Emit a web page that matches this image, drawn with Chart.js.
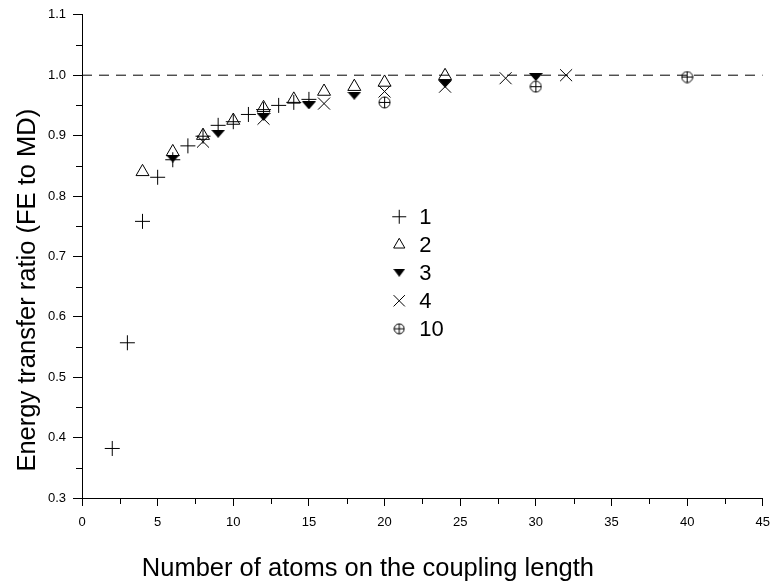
<!DOCTYPE html>
<html>
<head>
<meta charset="utf-8">
<script src="https://cdn.jsdelivr.net/npm/chart.js@4.4.1/dist/chart.umd.min.js"></script>
<style>
  body { margin: 0; background: #fff; }
</style>
</head>
<body>
<canvas id="chart" width="779" height="587"></canvas>
<script>
// series labels as in the legend
const seriesNames = ['1', '2', '3', '4', '10'];

// values
const s1X = [2, 3, 4, 5, 6, 7, 8, 9, 10, 11, 12, 13, 14, 15];
const s1Y = [0.382, 0.557, 0.758, 0.831, 0.860, 0.883, 0.899, 0.917, 0.923, 0.935, 0.943, 0.950, 0.955, 0.960];
const s2X = [4, 6, 8, 10, 12, 14, 16, 18, 20, 24];
const s2Y = [0.840, 0.873, 0.900, 0.925, 0.946, 0.960, 0.973, 0.981, 0.988, 0.999];
const s3X = [6, 9, 12, 15, 18, 24, 30];
const s3Y = [0.862, 0.903, 0.931, 0.950, 0.966, 0.986, 0.997];
const s4X = [8, 12, 16, 20, 24, 28, 32];
const s4Y = [0.890, 0.928, 0.953, 0.973, 0.981, 0.995, 1.000];
const s10X = [20, 30, 40];
const s10Y = [0.955, 0.981, 0.997];

// dashed reference line
const refX = [0, 45];
const refY = [1.0, 1.0];

// ticks
const xTicks = [0, 5, 10, 15, 20, 25, 30, 35, 40, 45];
const xMinorTicks = [2.5, 7.5, 12.5, 17.5, 22.5, 27.5, 32.5, 37.5, 42.5];
const yTicks = [0.3, 0.4, 0.5, 0.6, 0.7, 0.8, 0.9, 1.0, 1.1];
const yMinorTicks = [0.35, 0.45, 0.55, 0.65, 0.75, 0.85, 0.95, 1.05];

const xTitle = 'Number of atoms on the coupling length';
const yTitle = 'Energy transfer ratio (FE to MD)';

const FONT = "'Liberation Sans', Arial, Helvetica, sans-serif";

function pts(xs, ys) {
  return xs.map((x, i) => ({ x: x, y: ys[i] }));
}

// flat filled down-triangle
function downTri(w, h) {
  const c = document.createElement('canvas');
  c.width = w; c.height = h;
  const g = c.getContext('2d');
  g.fillStyle = '#000';
  g.beginPath();
  g.moveTo(0, 0);
  g.lineTo(w, 0);
  g.lineTo(w / 2, h);
  g.closePath();
  g.fill();
  return c;
}

// circle with a plus inside
function oplus(d) {
  const c = document.createElement('canvas');
  c.width = d; c.height = d;
  const g = c.getContext('2d');
  const m = d / 2, r = d / 2 - 1;
  g.strokeStyle = '#000';
  g.lineWidth = 1;
  g.beginPath();
  g.arc(m, m, r, 0, Math.PI * 2);
  g.moveTo(m - r, m);
  g.lineTo(m + r, m);
  g.moveTo(m, m - r);
  g.lineTo(m, m + r);
  g.stroke();
  return c;
}

const styles = [
  { pointStyle: 'cross', radius: 7.5, legendRadius: 7, fill: 'rgba(0,0,0,0)' },
  { pointStyle: 'triangle', radius: 7.5, legendRadius: 6.5, fill: 'rgba(0,0,0,0)' },
  { pointStyle: downTri(14, 8), legendStyle: downTri(12, 8), radius: 7, fill: '#000' },
  { pointStyle: 'crossRot', radius: 8.5, legendRadius: 8, fill: 'rgba(0,0,0,0)' },
  { pointStyle: oplus(13), legendStyle: oplus(12), radius: 6.5, fill: 'rgba(0,0,0,0)' }
];

const seriesData = [pts(s1X, s1Y), pts(s2X, s2Y), pts(s3X, s3Y), pts(s4X, s4Y), pts(s10X, s10Y)];

const datasets = seriesNames.map((name, i) => ({
  label: name,
  data: seriesData[i],
  showLine: false,
  pointStyle: styles[i].pointStyle,
  pointRadius: styles[i].radius,
  pointBorderWidth: 1,
  pointBorderColor: '#000',
  pointBackgroundColor: styles[i].fill
}));

datasets.push({
  label: 'ref',
  data: pts(refX, refY),
  showLine: true,
  borderColor: '#000',
  borderWidth: 1,
  borderDash: [10, 7],
  pointRadius: 0
});

// minor ticks, both axis titles, and the legend inside the plot
const extras = {
  id: 'extras',
  afterDraw(chart) {
    const { ctx, chartArea: a, scales } = chart;
    ctx.save();
    ctx.strokeStyle = '#000';
    ctx.lineWidth = 1;
    ctx.beginPath();
    xMinorTicks.forEach(v => {
      const px = Math.round(scales.x.getPixelForValue(v)) + 0.5;
      ctx.moveTo(px, a.bottom);
      ctx.lineTo(px, a.bottom + 6);
    });
    yMinorTicks.forEach(v => {
      const py = Math.round(scales.y.getPixelForValue(v)) + 0.5;
      ctx.moveTo(a.left - 6, py);
      ctx.lineTo(a.left, py);
    });
    ctx.stroke();

    ctx.fillStyle = '#000';
    ctx.font = '25.5px ' + FONT;
    ctx.textAlign = 'center';
    ctx.textBaseline = 'middle';
    ctx.fillText(xTitle, a.left + 0.42 * (a.right - a.left), 569);

    ctx.save();
    ctx.translate(28, a.top + 0.57 * (a.bottom - a.top));
    ctx.rotate(-Math.PI / 2);
    ctx.fillText(yTitle, 0, 0);
    ctx.restore();

    const lx = a.left + 0.466 * (a.right - a.left);
    const ly = a.top + 0.418 * (a.bottom - a.top);
    ctx.font = '22px ' + FONT;
    ctx.textAlign = 'left';
    seriesNames.forEach((name, i) => {
      const y = ly + i * 28;
      const st = styles[i];
      ctx.fillStyle = st.fill;
      ctx.strokeStyle = '#000';
      Chart.helpers.drawPoint(ctx, {
        pointStyle: st.legendStyle || st.pointStyle,
        radius: st.legendRadius || st.radius,
        rotation: 0,
        borderWidth: 1
      }, lx, y);
      ctx.fillStyle = '#000';
      ctx.fillText(name, lx + 20, y + 1);
    });
    ctx.restore();
  }
};

new Chart(document.getElementById('chart').getContext('2d'), {
  type: 'scatter',
  data: { datasets: datasets },
  options: {
    responsive: false,
    animation: false,
    layout: { padding: { top: 10, right: 7, left: 0, bottom: 0 } },
    plugins: {
      legend: { display: false },
      tooltip: { enabled: false }
    },
    scales: {
      x: {
        type: 'linear',
        min: 0,
        max: 45,
        afterFit: s => { s.height = 89; },
        afterBuildTicks: s => { s.ticks = xTicks.map(v => ({ value: v })); },
        grid: { drawOnChartArea: false, tickLength: 8, color: '#000' },
        border: { display: true, color: '#000', width: 1 },
        ticks: {
          color: '#000',
          padding: 9,
          maxRotation: 0,
          font: { family: FONT, size: 13 },
          callback: v => String(v)
        }
      },
      y: {
        type: 'linear',
        min: 0.3,
        max: 1.1,
        afterFit: s => { s.width = 82; },
        afterBuildTicks: s => { s.ticks = yTicks.map(v => ({ value: v })); },
        grid: { drawOnChartArea: false, tickLength: 9, color: '#000' },
        border: { display: true, color: '#000', width: 1 },
        ticks: {
          color: '#000',
          padding: 7,
          font: { family: FONT, size: 13 },
          callback: v => v.toFixed(1)
        }
      }
    }
  },
  plugins: [extras]
});
</script>
</body>
</html>
